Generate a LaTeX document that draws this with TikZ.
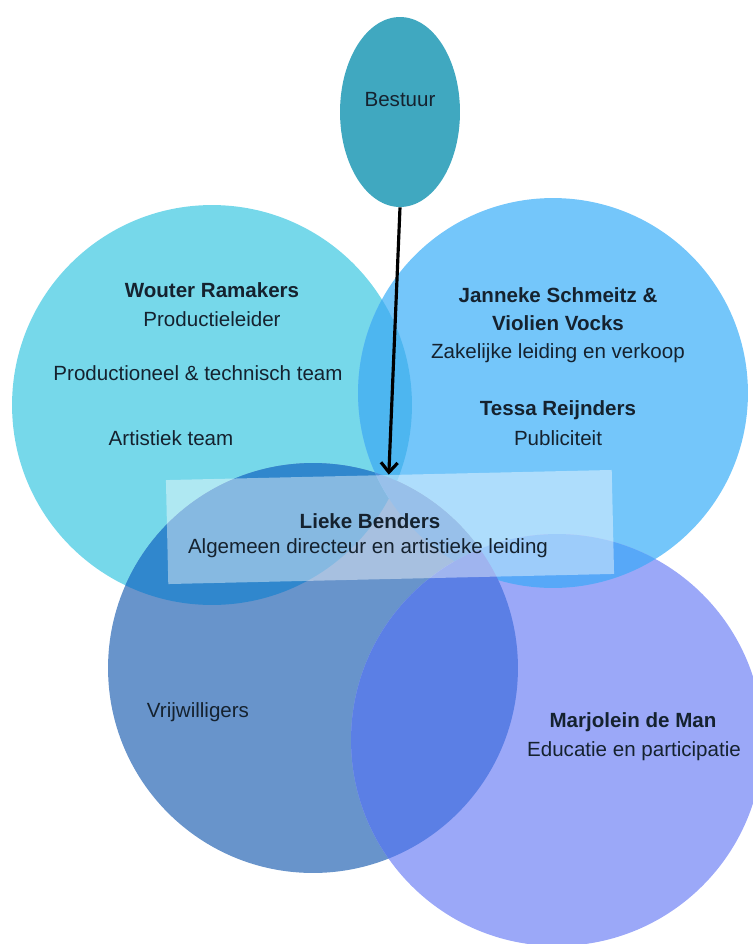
\documentclass[tikz,border=0pt]{standalone}
\RequirePackage{fontspec}
\setmainfont{Liberation Sans}
\RequirePackage{tikz}
\usetikzlibrary{shapes.geometric}
\usetikzlibrary{arrows.meta}

\definecolor{cyancirc}{HTML}{76D8EA}
\definecolor{skycirc}{HTML}{74C6FA}
\definecolor{steelcirc}{HTML}{6894CB}
\definecolor{pericirc}{HTML}{9BA8F8}
\definecolor{cyansky}{HTML}{4DB6F0}
\definecolor{cyansteel}{HTML}{3087CD}
\definecolor{steelperi}{HTML}{5B7FE5}
\definecolor{skyperi}{HTML}{57A8F8}
\definecolor{skysteel}{HTML}{4F93DC}
\definecolor{bestuurfill}{HTML}{40A8C0}
\definecolor{txtcol}{HTML}{15222F}

\begin{document}
\begin{tikzpicture}[x=0.02cm,y=-0.02cm,
                    txt/.style={text=txtcol,inner sep=0pt,font=\fontsize{11.7}{14}\selectfont},
                    naam/.style={txt,font=\fontsize{11.7}{14}\selectfont\bfseries},
                    bestuurnode/.style={ellipse,fill=bestuurfill,minimum width=2.4cm,minimum height=3.8cm,inner sep=0pt},
                    liekebox/.style={fill=white,fill opacity=0.42,minimum width=8.92cm,minimum height=2.08cm,inner sep=0pt}]
                    \useasboundingbox (0,0) rectangle (753,944);

                    \coordinate (Cw) at (212,405);
                    \coordinate (Cj) at (553,393);
                    \coordinate (Cv) at (313,668);
                    \coordinate (Cm) at (557,740);

                    \fill[cyancirc] (Cw) circle[radius=4cm];
                    \fill[skycirc] (Cj) circle[radius=3.9cm];
                    \fill[steelcirc] (Cv) circle[radius=4.1cm];
                    \fill[pericirc] (Cm) circle[radius=4.12cm];

                    \begin{scope}
                        \clip (Cw) circle[radius=4cm];
                        \fill[cyansteel] (Cv) circle[radius=4.1cm];
                    \end{scope}
                    \begin{scope}
                        \clip (Cw) circle[radius=4cm];
                        \fill[cyansky] (Cj) circle[radius=3.9cm];
                    \end{scope}
                    \begin{scope}
                        \clip (Cj) circle[radius=3.9cm];
                        \fill[skysteel] (Cv) circle[radius=4.1cm];
                    \end{scope}
                    \begin{scope}
                        \clip (Cj) circle[radius=3.9cm];
                        \fill[skyperi] (Cm) circle[radius=4.12cm];
                    \end{scope}
                    \begin{scope}
                        \clip (Cv) circle[radius=4.1cm];
                        \fill[steelperi] (Cm) circle[radius=4.12cm];
                    \end{scope}

                    \node[bestuurnode] (bestuur) at (400,112) {};
                    \node[txt] (bestuurtxt) at (400,100) {Bestuur};

                    \node[liekebox,rotate=1.3] (lieke) at (390,527) {};
                    \draw[-{Straight Barb[length=5.5pt,width=9.5pt]},line width=1.8pt,black] (bestuur.south) -- (lieke.north);

                    \node[naam] (wouter) at (212,290) {Wouter Ramakers};
                    \node[txt] (wouterrol) at (212,319) {Productieleider};
                    \node[txt] (prodteam) at (198,373) {Productioneel \& technisch team};
                    \node[txt] (artteam) at (171,438) {Artistiek team};

                    \node[naam] (janneke) at (558,295) {Janneke Schmeitz \&};
                    \node[naam] (violien) at (558,323) {Violien Vocks};
                    \node[txt] (zakelijk) at (558,353) {Zakelijke leiding en verkoop};
                    \node[naam] (tessa) at (558,410) {Tessa Reijnders};
                    \node[txt] (publiciteit) at (558,438) {Publiciteit};

                    \node[naam] (liekenaam) at (370,521) {Lieke Benders};
                    \node[txt] (liekerol) at (368,548) {Algemeen directeur en artistieke leiding};

                    \node[txt] (vrijwilligers) at (198,712) {Vrijwilligers};

                    \node[naam] (marjolein) at (633,722) {Marjolein de Man};
                    \node[txt] (educatie) at (634,751) {Educatie en participatie};
                \end{tikzpicture}
\end{document}
